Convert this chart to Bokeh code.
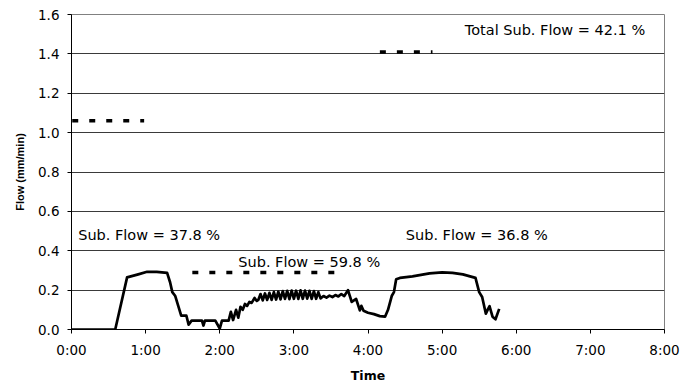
from bokeh.plotting import figure
from bokeh.models import Range1d, Label, FixedTicker, NumeralTickFormatter, ColumnDataSource, Title
from bokeh.embed import file_html
from bokeh.resources import INLINE

# ---- data ----
time_h = [0.00, 0.59, 0.75, 0.90, 1.02, 1.15, 1.29, 1.33, 1.36, 1.40, 1.44, 1.48, 1.55, 1.58,
          1.62, 1.76, 1.78, 1.80, 1.94, 2.00, 2.03, 2.12, 2.15, 2.18, 2.22, 2.25, 2.28, 2.31,
          2.34, 2.37, 2.40, 2.43, 2.47, 2.50, 2.52, 2.55, 2.58, 2.61, 2.64, 2.67, 2.70, 2.73,
          2.76, 2.79, 2.82, 2.85, 2.88, 2.91, 2.94, 2.97, 3.00, 3.03, 3.06, 3.09, 3.12, 3.15,
          3.18, 3.21, 3.24, 3.27, 3.30, 3.33, 3.36, 3.40, 3.44, 3.48, 3.52, 3.56, 3.60, 3.64,
          3.68, 3.73, 3.78, 3.84, 3.89, 3.91, 3.94, 4.00, 4.08, 4.16, 4.23, 4.27, 4.32, 4.35,
          4.38, 4.43, 4.60, 4.83, 5.00, 5.14, 5.28, 5.45, 5.50, 5.54, 5.59, 5.62, 5.64, 5.68,
          5.72, 5.77]
flow = [0.000, 0.000, 0.265, 0.280, 0.293, 0.293, 0.288, 0.240, 0.190, 0.170, 0.120, 0.070, 0.070, 0.025,
        0.045, 0.045, 0.020, 0.045, 0.045, 0.005, 0.045, 0.045, 0.090, 0.048, 0.100, 0.060, 0.115, 0.100,
        0.130, 0.120, 0.140, 0.135, 0.160, 0.145, 0.150, 0.180, 0.148, 0.183, 0.150, 0.186, 0.150, 0.190,
        0.152, 0.192, 0.153, 0.195, 0.155, 0.196, 0.154, 0.198, 0.156, 0.197, 0.155, 0.199, 0.156, 0.198,
        0.157, 0.196, 0.155, 0.195, 0.156, 0.190, 0.158, 0.170, 0.162, 0.172, 0.165, 0.175, 0.168, 0.180,
        0.170, 0.200, 0.140, 0.155, 0.097, 0.120, 0.095, 0.085, 0.078, 0.068, 0.065, 0.100, 0.170, 0.190,
        0.255, 0.262, 0.270, 0.285, 0.290, 0.288, 0.280, 0.262, 0.190, 0.165, 0.080, 0.105, 0.118, 0.065,
        0.052, 0.105]

# dashed reference levels
level_start = [0.01, 4.16, 1.63]
level_end = [0.98, 4.87, 3.62]
level_value = [1.06, 1.41, 0.29]

# annotations
note_text = ["Total Sub. Flow = 42.1 %", "Sub. Flow = 37.8 %", "Sub. Flow = 59.8 %", "Sub. Flow = 36.8 %"]
note_x = [7.74, 0.09, 2.25, 4.51]
note_y = [1.52, 0.48, 0.345, 0.48]
note_align = ["right", "left", "left", "left"]

x_ticks = [0, 1, 2, 3, 4, 5, 6, 7, 8]
x_tick_labels = ["0:00", "1:00", "2:00", "3:00", "4:00", "5:00", "6:00", "7:00", "8:00"]
y_ticks = [0.0, 0.2, 0.4, 0.6, 0.8, 1.0, 1.2, 1.4, 1.6]

FONT = "DejaVu Sans"

p = figure(width=684, height=385, output_backend="svg", toolbar_location=None,
           x_range=Range1d(0, 8), y_range=Range1d(0, 1.6),
           min_border_left=71, min_border_right=20, min_border_top=14, min_border_bottom=51)
p.background_fill_color = "white"
p.border_fill_color = "white"
p.outline_line_color = "#808080"
p.outline_line_width = 1

# grid
p.xgrid.grid_line_color = None
p.ygrid.ticker = FixedTicker(ticks=y_ticks)
p.ygrid.grid_line_color = "#3a3a3a"
p.ygrid.grid_line_width = 1

# axes
p.xaxis.ticker = FixedTicker(ticks=x_ticks)
p.xaxis.major_label_overrides = {t: l for t, l in zip(x_ticks, x_tick_labels)}
p.yaxis.ticker = FixedTicker(ticks=y_ticks)
p.yaxis.formatter = NumeralTickFormatter(format="0.0")
for ax in (p.xaxis, p.yaxis):
    ax.axis_line_color = "black"
    ax.axis_line_width = 1
    ax.major_tick_line_color = "black"
    ax.major_tick_out = 4
    ax.major_tick_in = 0
    ax.minor_tick_line_color = None
    ax.major_label_text_font = FONT
    ax.major_label_text_font_size = "13.5px"
    ax.major_label_text_color = "black"

p.xaxis.axis_label = "Time"
p.xaxis.axis_label_text_font = FONT
p.xaxis.axis_label_text_font_style = "bold"
p.xaxis.axis_label_text_color = "black"
p.xaxis.axis_label_text_font_size = "12.5px"
p.xaxis.major_label_standoff = 8
p.xaxis.axis_label_standoff = 7

p.yaxis.major_label_standoff = 8

# y-axis title, shifted slightly upward as in the reference
p.add_layout(Title(text="Flow (mm/min)", align="center", offset=18,
                   text_font="Liberation Sans", text_font_size="11px",
                   text_font_style="bold", text_color="black", standoff=20), "left")

# data line
src = ColumnDataSource(dict(t=time_h, v=flow))
p.line("t", "v", source=src, line_color="black", line_width=2.7, line_join="round")

# dashed levels
lsrc = ColumnDataSource(dict(x0=level_start, x1=level_end, y=level_value))
p.segment(x0="x0", y0="y", x1="x1", y1="y", source=lsrc, line_color="black",
          line_width=3.5, line_dash="6 11", line_cap="butt")

for txt, x, y, al in zip(note_text, note_x, note_y, note_align):
    p.add_layout(Label(x=x, y=y, text=txt, text_font=FONT, text_font_size="14.5px",
                       text_color="black", text_align=al, text_baseline="middle"))

open("out.html", "w").write(file_html(p, INLINE))
